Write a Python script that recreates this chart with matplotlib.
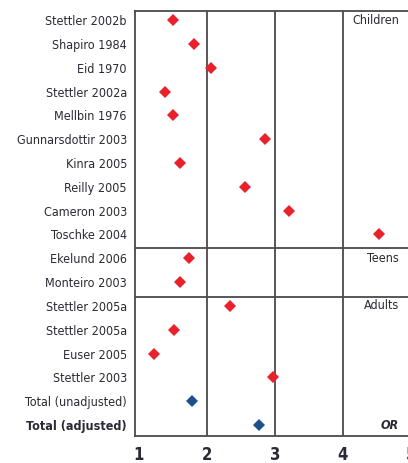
import matplotlib.pyplot as plt

# odds ratios per study, top to bottom
studies = ["Stettler 2002b", "Shapiro 1984", "Eid 1970", "Stettler 2002a",
           "Mellbin 1976", "Gunnarsdottir 2003", "Kinra 2005", "Reilly 2005",
           "Cameron 2003", "Toschke 2004",
           "Ekelund 2006", "Monteiro 2003",
           "Stettler 2005a", "Stettler 2005a", "Euser 2005", "Stettler 2003",
           "Total (unadjusted)", "Total (adjusted)"]
odds = [1.50, 1.81, 2.06, 1.38, 1.50, 2.86, 1.61, 2.57, 3.21, 4.54,
        1.74, 1.61,
        2.35, 1.52, 1.23, 2.98,
        1.79, 2.77]
is_total = [False] * 16 + [True, True]

groups = ["Children", "Teens", "Adults"]
group_start = [0, 10, 12]
group_breaks = [9.57, 11.62]

xticks = [1, 2, 3, 4, 5]

RED = "#e8212a"
BLUE = "#1d4f8c"
INK = "#2a2a36"
LINE = "#4a4a4a"

plt.rcParams['font.family'] = ['DejaVu Sans']
plt.rcParams['font.stretch'] = 'condensed'

fig = plt.figure(figsize=(4.08, 4.63), dpi=100)
ax = fig.add_axes([0.3316, 0.0583, 0.675, 0.918])

rows = list(range(len(studies)))
for r, v, tot in zip(rows, odds, is_total):
    ax.plot(v, r, linestyle="none", marker="D", markersize=6.2,
            markeredgewidth=0, color=BLUE if tot else RED, zorder=3)

# vertical reference lines and group separators
for xv in xticks[1:-1]:
    ax.axvline(xv, color=LINE, linewidth=1.3, zorder=1)
for yb in group_breaks:
    ax.axhline(yb, color=LINE, linewidth=1.3, zorder=1)

for name, start in zip(groups, group_start):
    ax.text(4.83, start, name, ha="right", va="center", fontsize=9,
            color=INK, fontstretch="condensed")
ax.text(4.83, 17, "OR", ha="right", va="center", fontsize=9,
        color=INK, style="italic", fontweight="bold", fontstretch="condensed")

ax.set_xlim(0.95, 5.0)
ax.set_ylim(17.46, -0.38)
ax.set_xticks(xticks)
ax.set_xticklabels([str(t) for t in xticks], fontsize=12, fontweight="bold",
                   color=INK, fontstretch="condensed")
ax.set_yticks(rows)
ax.set_yticklabels(studies, fontsize=9, color=INK, fontstretch="condensed")
for lbl in ax.get_yticklabels():
    if lbl.get_text() == "Total (adjusted)":
        lbl.set_fontweight("bold")
ax.tick_params(axis="both", length=0)
ax.tick_params(axis="x", pad=7)
ax.tick_params(axis="y", pad=6)

for side in ["left", "top", "bottom"]:
    ax.spines[side].set_color(LINE)
    ax.spines[side].set_linewidth(1.3)
ax.spines["right"].set_visible(False)

fig.savefig("out.png", dpi=100)
